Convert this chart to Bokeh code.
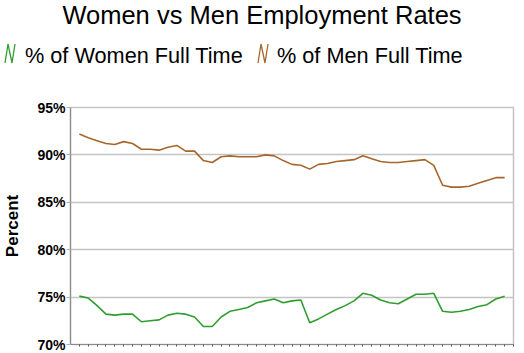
from bokeh.plotting import figure
from bokeh.layouts import column
from bokeh.models import FixedTicker, PrintfTickFormatter, ColumnDataSource, Div
from bokeh.embed import file_html
from bokeh.resources import INLINE

title = "Women vs Men Employment Rates"
series_names = ["% of Women Full Time", "% of Men Full Time"]

women = [75.1, 74.9, 74.1, 73.2, 73.1, 73.2, 73.2, 72.4, 72.5, 72.6,
         73.1, 73.3, 73.2, 72.9, 71.9, 71.9, 72.9, 73.5, 73.7, 73.9,
         74.4, 74.6, 74.8, 74.4, 74.6, 74.7, 72.3, 72.7, 73.2, 73.7,
         74.1, 74.6, 75.4, 75.2, 74.7, 74.4, 74.3, 74.8, 75.3, 75.3,
         75.4, 73.5, 73.4, 73.5, 73.7, 74.0, 74.2, 74.8, 75.1]
men = [92.2, 91.8, 91.5, 91.2, 91.1, 91.4, 91.2, 90.6, 90.6, 90.5,
       90.8, 91.0, 90.4, 90.4, 89.4, 89.2, 89.8, 89.9, 89.8, 89.8,
       89.8, 90.0, 89.9, 89.4, 89.0, 88.9, 88.5, 89.0, 89.1, 89.3,
       89.4, 89.5, 89.9, 89.6, 89.3, 89.2, 89.2, 89.3, 89.4, 89.5,
       88.9, 86.8, 86.6, 86.6, 86.7, 87.0, 87.3, 87.6, 87.6]
y_ticks = [70, 75, 80, 85, 90, 95]
y_label = "Percent"

colors = ["#2f9e2f", "#a8662c"]
xs = list(range(1, len(women) + 1))
n = len(women)

W = 524
HEAD_H = 80
MAIN_H = 353 - HEAD_H

# ---------- header (title + legend) as HTML ----------
font = "font-family:'Liberation Sans',Arial,sans-serif;color:#000;line-height:1;white-space:nowrap;"
icon_x0 = [5, 258]
text_x0 = [25, 277]
parts = [f'<div style="position:relative;width:{W}px;height:{HEAD_H}px;overflow:hidden;">',
         f'<div style="position:absolute;left:0;top:3px;width:{W}px;text-align:center;'
         f'font-size:25.5px;{font}">{title}</div>',
         f'<svg style="position:absolute;left:0;top:0;" width="{W}" height="{HEAD_H}">']
for i in range(2):
    x0 = icon_x0[i]
    pts = f"{x0},63 {x0 + 3},44 {x0 + 7},63 {x0 + 10},44"
    parts.append(f'<polyline points="{pts}" fill="none" stroke="{colors[i]}" '
                 f'stroke-width="1.3" stroke-linejoin="miter"/>')
parts.append('</svg>')
for i in range(2):
    parts.append(f'<div style="position:absolute;left:{text_x0[i]}px;top:44.6px;'
                 f'font-size:21.7px;{font}">{series_names[i]}</div>')
parts.append('</div>')
header = Div(text="".join(parts), width=W, height=HEAD_H, margin=(0, 0, 0, 0))

# ---------- main chart ----------
p = figure(width=W, height=MAIN_H, x_range=(0, n + 1), y_range=(70, 95),
           output_backend="svg", toolbar_location=None,
           min_border_left=66, min_border_right=11, min_border_top=27,
           min_border_bottom=9)
p.outline_line_color = "#c4c4c4"
p.outline_line_width = 1.5

src = ColumnDataSource(dict(x=xs, women=women, men=men))
p.line("x", "women", source=src, line_color=colors[0], line_width=1.6)
p.line("x", "men", source=src, line_color=colors[1], line_width=1.6)

p.xgrid.visible = False
p.ygrid.ticker = FixedTicker(ticks=y_ticks)
p.ygrid.grid_line_color = "#c4c4c4"
p.ygrid.grid_line_width = 1.5

p.yaxis.ticker = FixedTicker(ticks=y_ticks)
p.yaxis.formatter = PrintfTickFormatter(format="%d%%")
p.yaxis.major_label_text_font = "Liberation Sans"
p.yaxis.major_label_text_font_style = "bold"
p.yaxis.major_label_text_font_size = "14px"
p.yaxis.major_label_text_color = "#000000"
p.yaxis.major_tick_out = 4
p.yaxis.major_tick_in = 0
p.yaxis.major_tick_line_color = "#b0b0b0"
p.yaxis.minor_tick_line_color = None
p.yaxis.major_label_standoff = 1
p.yaxis.axis_line_color = "#8c8c8c"
p.yaxis.axis_line_width = 1.2
p.yaxis.axis_label = y_label
p.yaxis.axis_label_text_font = "Liberation Sans"
p.yaxis.axis_label_text_font_style = "bold"
p.yaxis.axis_label_text_font_size = "17px"
p.yaxis.axis_label_text_color = "#000000"
p.yaxis.axis_label_standoff = 12

p.xaxis.ticker = FixedTicker(ticks=list(range(1, n + 2)))
p.xaxis.major_label_text_font_size = "0px"
p.xaxis.major_label_text_alpha = 0
p.xaxis.major_tick_out = 2
p.xaxis.major_tick_in = 0
p.xaxis.major_tick_line_color = "#555555"
p.xaxis.minor_tick_line_color = None
p.xaxis.axis_line_color = "#8c8c8c"
p.xaxis.axis_line_width = 1.2
p.xaxis.major_label_standoff = 0

layout = column(header, p, spacing=0)
open("out.html", "w").write(file_html(layout, INLINE))
